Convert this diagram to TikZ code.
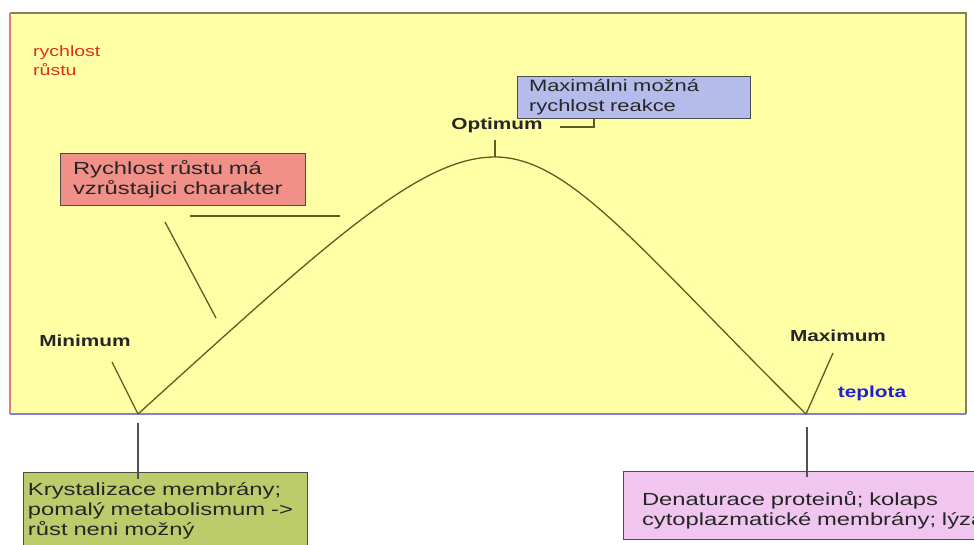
\documentclass[tikz,border=0pt]{standalone}
\usepackage{fontspec}
\setmainfont[FakeStretch=1.3]{Liberation Sans}
\newfontfamily\boxfont[FakeStretch=1.36]{Liberation Sans}
\newfontfamily\bluefont[FakeStretch=1.33]{Liberation Sans}
\definecolor{yfill}{RGB}{255,255,166}
\definecolor{topc}{RGB}{128,128,100}
\definecolor{leftc}{RGB}{224,128,112}
\definecolor{botc}{RGB}{128,128,224}
\definecolor{curvec}{RGB}{92,92,36}
\definecolor{greyl}{RGB}{80,80,80}
\definecolor{bluef}{RGB}{180,188,236}
\definecolor{salmf}{RGB}{240,144,136}
\definecolor{greenf}{RGB}{189,204,107}
\definecolor{pinkf}{RGB}{240,198,240}
\definecolor{redt}{RGB}{224,48,28}
\definecolor{bluet}{RGB}{32,32,208}
\begin{document}
\begin{tikzpicture}[x=1pt,y=-1pt,
  every node/.style={font=\fontsize{16}{20}\selectfont, text=black!85},
  boxstyle/.style={draw=black!70, line width=1pt, anchor=north west, align=left, inner sep=0pt, outer sep=0pt, font=\boxfont\fontsize{17.5}{20}\selectfont},
  lab/.style={font=\fontsize{16}{20}\selectfont\bfseries, text=black!85},
  curve/.style={draw=curvec, line width=1.3pt},
  conn/.style={draw=curvec, line width=1.3pt},
  vline/.style={draw=greyl, line width=1.8pt}]
\useasboundingbox (0,0) rectangle (974,544);
\clip (0,0) rectangle (974,544);
\fill[white] (0,0) rectangle (974,544);
% frame
\coordinate (tl) at (10,13);
\coordinate (tr) at (966,13);
\coordinate (br) at (966,414);
\coordinate (bl) at (10,414);
\fill[yfill] (tl) rectangle (br);
\draw[topc, line width=1.5pt] (tl) -- (tr) -- (br);
\draw[leftc, line width=1.3pt] (bl) -- (tl);
\draw[botc, line width=1.5pt] (bl) -- (br);
% axis labels
\node[anchor=north west, align=left, text=redt, inner sep=0pt, font=\fontsize{15}{19.5}\selectfont] (ylab) at (33,45) {rychlost\\růstu};
\node[lab, text=bluet] (xlab) at (872,393) {teplota};
% curve
\coordinate (minpt) at (138,414);
\coordinate (peak) at (495,157);
\coordinate (maxpt) at (806,414);
\draw[curve] (minpt) .. controls (330,240) and (420,157) .. (peak) .. controls (570,157) and (640,250) .. (maxpt);
% optimum
\node[lab] (opt) at (497,125) {Optimum};
\coordinate (optt) at (495,140);
\draw[conn] (optt) -- (peak);
\node[boxstyle, fill=bluef, minimum width=233pt, minimum height=42pt, text width=233pt, font=\bluefont\fontsize{16.5}{20}\selectfont] (maxbox) at (517,76) {\hspace*{12pt}Maximálni možná\\\hspace*{12pt}rychlost reakce};
\coordinate (bk1) at (560,127);
\coordinate (bk2) at (594,127);
\draw[conn] (bk1) -- (bk2) -- (bk2 |- maxbox.south);
% rising annotation
\node[boxstyle, fill=salmf, minimum width=245pt, minimum height=52pt, text width=245pt] (risebox) at (60,153) {\hspace*{13pt}Rychlost růstu má\\\hspace*{13pt}vzrůstajici charakter};
\coordinate (h1) at (190,216);
\coordinate (h2) at (340,216);
\draw[conn] (h1) -- (h2);
\coordinate (d1) at (165,222);
\coordinate (d2) at (216,318);
\draw[conn] (d1) -- (d2);
% minimum / maximum
\node[lab] (minlab) at (85,341) {Minimum};
\coordinate (minl) at (112,362);
\draw[conn] (minl) -- (minpt);
\node[lab] (maxlab) at (838,336) {Maximum};
\coordinate (maxl) at (833,353);
\draw[conn] (maxl) -- (maxpt);
% bottom boxes
\node[boxstyle, fill=greenf, minimum width=284pt, minimum height=78pt, text width=284pt] (greenbox) at (23,472) {\hspace*{5pt}Krystalizace membrány;\\\hspace*{5pt}pomalý metabolismum ->\\\hspace*{5pt}růst neni možný};
\node[boxstyle, fill=pinkf, minimum width=400pt, minimum height=68pt, text width=400pt] (pinkbox) at (623,471) {\rule{0pt}{24pt}\hspace*{19pt}Denaturace proteinů; kolaps\\\hspace*{19pt}cytoplazmatické membrány; lýza};
\coordinate (v1a) at (138,423);
\coordinate (v2a) at (807,427);
\draw[vline] (v1a) -- ([yshift=-7pt]greenbox.north -| v1a);
\draw[vline] (v2a) -- ([yshift=-6pt]pinkbox.north -| v2a);
\end{tikzpicture}
\end{document}
